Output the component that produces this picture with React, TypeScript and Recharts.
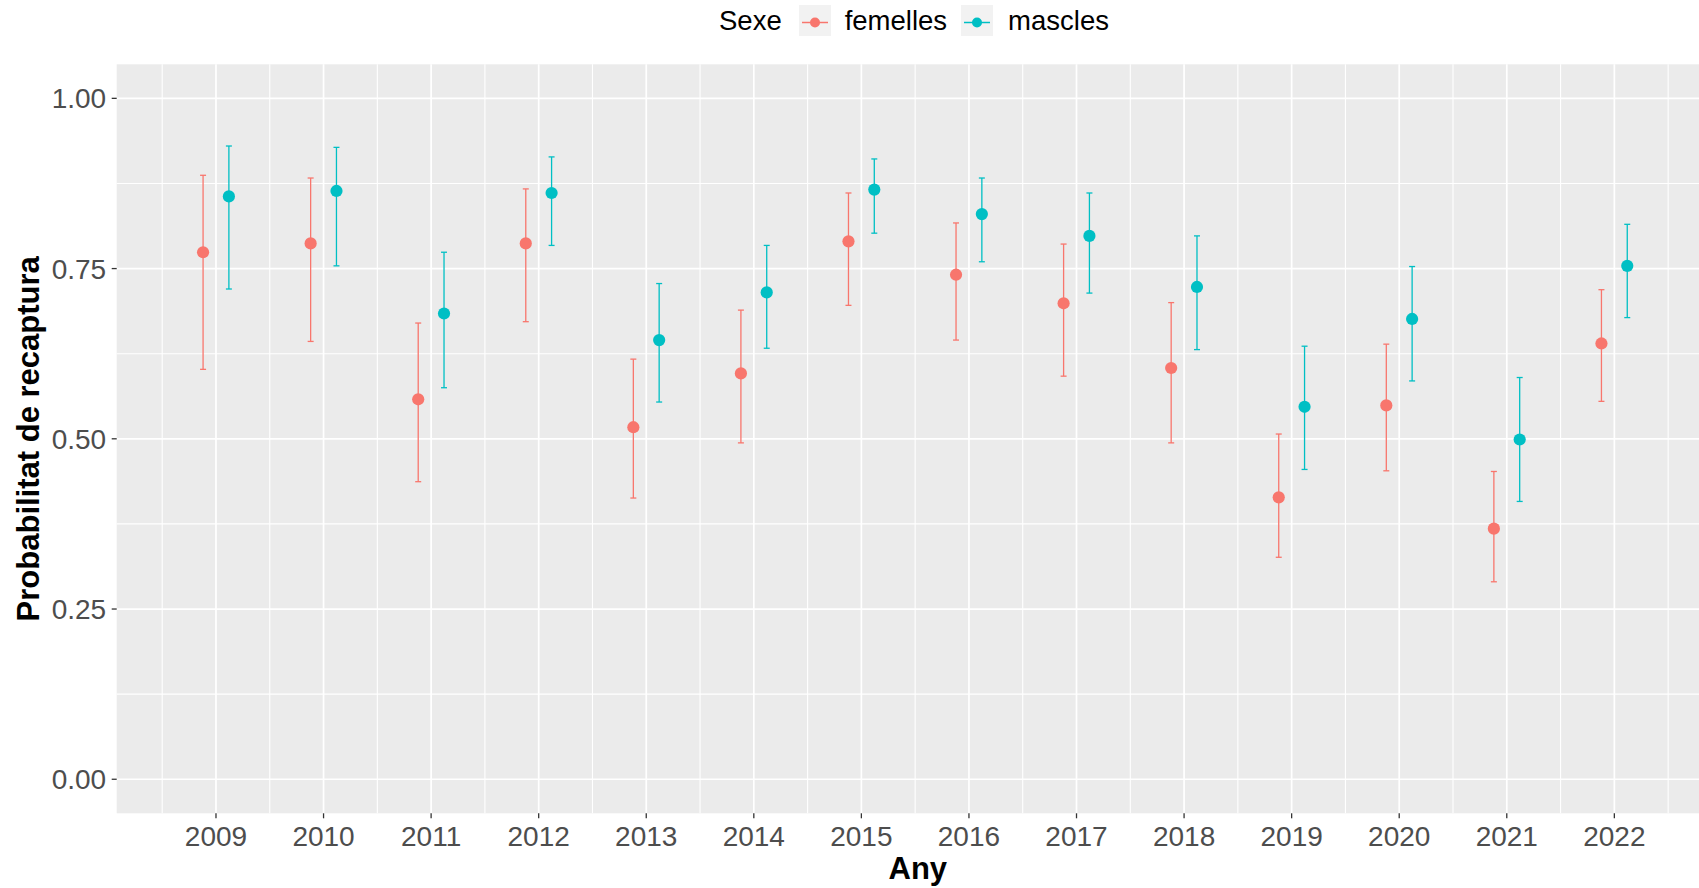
import React from "react";
import { ScatterChart, Scatter, ErrorBar, XAxis, YAxis, CartesianGrid, Legend } from "recharts";

const years = [2009, 2010, 2011, 2012, 2013, 2014, 2015, 2016, 2017, 2018, 2019, 2020, 2021, 2022];

const femellesEst = [0.774, 0.787, 0.558, 0.787, 0.517, 0.596, 0.790, 0.741, 0.699, 0.604, 0.414, 0.549, 0.368, 0.640];
const femellesLo = [0.602, 0.643, 0.437, 0.672, 0.413, 0.494, 0.696, 0.645, 0.592, 0.494, 0.326, 0.453, 0.290, 0.555];
const femellesHi = [0.887, 0.883, 0.670, 0.867, 0.617, 0.689, 0.861, 0.817, 0.786, 0.700, 0.507, 0.639, 0.452, 0.719];

const masclesEst = [0.856, 0.864, 0.684, 0.861, 0.645, 0.715, 0.866, 0.830, 0.798, 0.723, 0.547, 0.676, 0.499, 0.754];
const masclesLo = [0.720, 0.754, 0.575, 0.784, 0.554, 0.633, 0.802, 0.760, 0.714, 0.631, 0.455, 0.585, 0.408, 0.678];
const masclesHi = [0.930, 0.928, 0.774, 0.914, 0.728, 0.784, 0.911, 0.883, 0.861, 0.798, 0.636, 0.753, 0.590, 0.815];

const yTicks = [0, 0.25, 0.5, 0.75, 1];
const yMinor = [0.125, 0.375, 0.625, 0.875];

const FONT = '"Liberation Sans", Arial, Helvetica, sans-serif';
const RED = "#F8766D";
const TEAL = "#00BFC4";
const DODGE = 0.12;

const xMinor = [...years.map((y) => y - 0.5), years[years.length - 1] + 0.5];

const build = (est: number[], lo: number[], hi: number[], shift: number) =>
  years.map((yr, i) => ({
    x: yr + shift,
    y: est[i],
    err: [est[i] - lo[i], hi[i] - est[i]],
  }));

const femData = build(femellesEst, femellesLo, femellesHi, -DODGE);
const mascData = build(masclesEst, masclesLo, masclesHi, DODGE);

const dot = (color: string) => (props: any) =>
  <circle cx={props.cx} cy={props.cy} r={6.1} fill={color} />;

const Key = ({ color }: { color: string }) => (
  <svg width={32} height={31} style={{ display: "block" }}>
    <rect x={0} y={0} width={32} height={31} fill="#F2F2F2" />
    <line x1={3} y1={17.5} x2={29} y2={17.5} stroke={color} strokeWidth={1.5} />
    <circle cx={16} cy={17.5} r={5} fill={color} />
  </svg>
);

const LegendRow = () => (
  <div
    style={{
      display: "flex",
      alignItems: "center",
      paddingLeft: 719,
      paddingTop: 3,
      fontFamily: FONT,
      fontSize: 27.5,
      color: "#000",
      height: 35,
    }}
  >
    <span style={{ marginRight: 17 }}>Sexe</span>
    <Key color={RED} />
    <span style={{ marginLeft: 14, marginRight: 14 }}>femelles</span>
    <Key color={TEAL} />
    <span style={{ marginLeft: 15 }}>mascles</span>
  </div>
);

const XTick = ({ x, y, payload }: any) => (
  <text x={x} y={y + 28} textAnchor="middle" fill="#4D4D4D" fontSize={28} fontFamily={FONT}>
    {payload.value}
  </text>
);

const YTick = ({ x, y, payload }: any) => (
  <text x={x} y={y + 10} textAnchor="end" fill="#4D4D4D" fontSize={28} fontFamily={FONT}>
    {Number(payload.value).toFixed(2)}
  </text>
);

const XTitle = (props: any) => {
  const vb = props.viewBox;
  return (
    <text x={vb.x + vb.width / 2 + 10} y={879} textAnchor="middle" fontSize={31} fontWeight="bold" fontFamily={FONT} fill="#000">
      Any
    </text>
  );
};

const YTitle = (props: any) => {
  const vb = props.viewBox;
  const cy = vb.y + vb.height / 2;
  return (
    <text x={39.5} y={cy} transform={`rotate(-90 39.5 ${cy})`} textAnchor="middle" fontSize={31} fontWeight="bold" fontFamily={FONT} fill="#000">
      Probabilitat de recaptura
    </text>
  );
};

export default function App() {
  return (
    <div style={{ position: "absolute", left: 0, top: 0, background: "#fff" }}>
      <ScatterChart width={1699} height={888} margin={{ top: 26.3, right: 0, bottom: 0, left: 0 }}>
        <Legend
          verticalAlign="top"
          align="left"
          wrapperStyle={{ top: 0, left: 0, width: 1699, height: 38 }}
          content={() => <LegendRow />}
        />
        <CartesianGrid fill="#EBEBEB" stroke="#FFFFFF" strokeWidth={1.1} horizontalValues={yMinor} verticalValues={xMinor} />
        <CartesianGrid stroke="#FFFFFF" strokeWidth={1.7} horizontalValues={yTicks} verticalValues={years} />
        <XAxis
          type="number"
          dataKey="x"
          domain={[2008.077, 2022.787]}
          allowDataOverflow
          ticks={years}
          interval={0}
          height={74.7}
          axisLine={false}
          tickSize={5}
          tickMargin={0}
          tickLine={{ stroke: "#333333", strokeWidth: 1.3 }}
          tick={<XTick />}
          label={XTitle}
        />
        <YAxis
          type="number"
          dataKey="y"
          domain={[-0.05, 1.05]}
          allowDataOverflow
          ticks={yTicks}
          interval={0}
          width={116.7}
          axisLine={false}
          tickSize={5}
          tickMargin={5.5}
          tickLine={{ stroke: "#333333", strokeWidth: 1.3 }}
          tick={<YTick />}
          label={YTitle}
        />
        <Scatter name="femelles" data={femData} fill={RED} shape={dot(RED)} isAnimationActive={false}>
          <ErrorBar dataKey="err" direction="y" width={3} stroke={RED} strokeWidth={1.3} />
        </Scatter>
        <Scatter name="mascles" data={mascData} fill={TEAL} shape={dot(TEAL)} isAnimationActive={false}>
          <ErrorBar dataKey="err" direction="y" width={3} stroke={TEAL} strokeWidth={1.3} />
        </Scatter>
      </ScatterChart>
    </div>
  );
}
